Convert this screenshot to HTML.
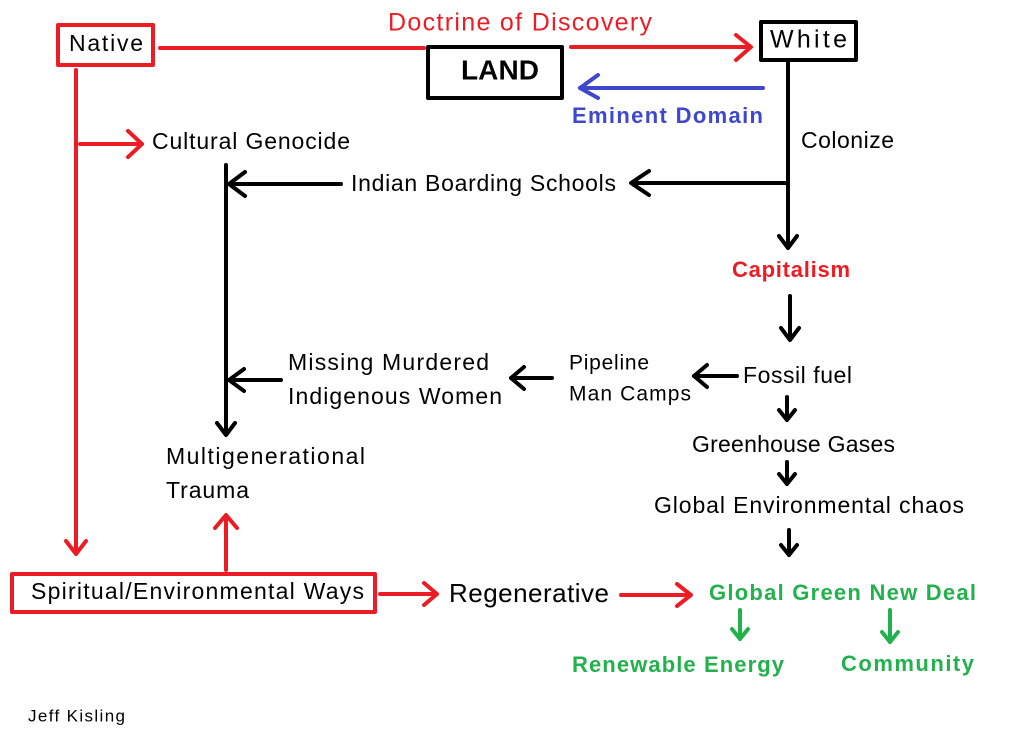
<!DOCTYPE html>
<html><head><meta charset="utf-8"><style>
html,body{margin:0;padding:0;background:#fff;}
svg{display:block;}
text{font-family:"Liberation Sans","DejaVu Sans",sans-serif;font-size:23px;fill:#000;dominant-baseline:middle;}
</style></head><body>
<svg width="1024" height="740" viewBox="0 0 1024 740" xmlns="http://www.w3.org/2000/svg">
<g fill="none" stroke-linecap="round" stroke-linejoin="round">
<rect x="58" y="25" width="95" height="40" stroke="#ed1c24" stroke-width="4"/>
<rect x="761" y="22" width="95" height="38" stroke="#000" stroke-width="4"/>
<rect x="428" y="47" width="134" height="51" stroke="#000" stroke-width="4"/>
<rect x="12" y="574" width="363" height="38" stroke="#ed1c24" stroke-width="4"/>
<g stroke="#ed1c24" stroke-width="4">
<line x1="160" y1="48" x2="424" y2="48"/>
<line x1="571" y1="47" x2="750" y2="47"/>
<polyline points="736,35 751,47 736,60"/>
<line x1="76" y1="70" x2="76" y2="553"/>
<polyline points="66,541 76,554 86,541"/>
<line x1="80" y1="144" x2="142" y2="144"/>
<polyline points="128,131 142,144 128,157"/>
<line x1="380" y1="594" x2="436" y2="594"/>
<polyline points="424,583 437,594 424,605"/>
<line x1="621" y1="595" x2="690" y2="595"/>
<polyline points="677,584 691,595 677,606"/>
<line x1="226" y1="570" x2="226" y2="516"/>
<polyline points="215,528 226,515 237,528"/>
</g>
<g stroke="#3f48cc" stroke-width="4">
<line x1="763" y1="88" x2="580" y2="88"/>
<polyline points="598,75 580,88 598,98"/>
</g>
<g stroke="#000" stroke-width="4">
<line x1="788" y1="60" x2="788" y2="247"/>
<polyline points="779,236 788,248 797,236"/>
<line x1="788" y1="183" x2="632" y2="183"/>
<polyline points="649,171 631,183 649,195"/>
<line x1="341" y1="184" x2="229" y2="184"/>
<polyline points="245,172 229,184 245,196"/>
<line x1="226" y1="165" x2="226" y2="434"/>
<polyline points="217,423 226,435 235,423"/>
<line x1="281" y1="380" x2="229" y2="380"/>
<polyline points="244,369 229,380 244,391"/>
<line x1="790" y1="296" x2="790" y2="339"/>
<polyline points="781,328 790,340 799,328"/>
<line x1="737" y1="376" x2="694" y2="376"/>
<polyline points="707,365 694,376 707,387"/>
<line x1="552" y1="378" x2="511" y2="378"/>
<polyline points="524,367 511,378 524,389"/>
<line x1="787" y1="397" x2="787" y2="420"/>
<polyline points="779,410 787,420 795,410"/>
<line x1="787" y1="462" x2="787" y2="484"/>
<polyline points="779,474 787,484 795,474"/>
<line x1="789" y1="530" x2="789" y2="555"/>
<polyline points="781,545 789,555 797,545"/>
</g>
<g stroke="#22b14c" stroke-width="4">
<line x1="740" y1="610" x2="740" y2="639"/>
<polyline points="732,629 740,639 748,629"/>
<line x1="890" y1="610" x2="890" y2="642"/>
<polyline points="882,632 890,642 898,632"/>
</g>
</g>
<text x="69" y="45" textLength="74">Native</text>
<text x="388" y="24" textLength="264" style="fill:#ed1c24;font-size:25px">Doctrine of Discovery</text>
<text x="770" y="41" textLength="77" style="font-size:25px">White</text>
<text x="461" y="72" textLength="78" style="font-weight:bold;font-size:28px">LAND</text>
<text x="572" y="117" textLength="191" style="fill:#3f48cc;font-weight:bold;font-size:22px">Eminent Domain</text>
<text x="801" y="142" textLength="93">Colonize</text>
<text x="152" y="143" textLength="198">Cultural Genocide</text>
<text x="351" y="185" textLength="265">Indian Boarding Schools</text>
<text x="732" y="271" textLength="118" style="fill:#ed1c24;font-weight:bold;font-size:22px">Capitalism</text>
<text x="743" y="377" textLength="109">Fossil fuel</text>
<text x="569" y="364" textLength="80" style="font-size:21px">Pipeline</text>
<text x="569" y="395" textLength="122" style="font-size:21px">Man Camps</text>
<text x="288" y="364" textLength="201">Missing Murdered</text>
<text x="288" y="398" textLength="214">Indigenous Women</text>
<text x="692" y="446" textLength="203">Greenhouse Gases</text>
<text x="166" y="458" textLength="199">Multigenerational</text>
<text x="166" y="492" textLength="83">Trauma</text>
<text x="654" y="507" textLength="310">Global Environmental chaos</text>
<text x="31" y="593" textLength="333">Spiritual/Environmental Ways</text>
<text x="449" y="595" textLength="160" style="font-size:26px">Regenerative</text>
<text x="709" y="594" textLength="267" style="fill:#22b14c;font-weight:bold;font-size:22px">Global Green New Deal</text>
<text x="572" y="666" textLength="212" style="fill:#22b14c;font-weight:bold;font-size:22px">Renewable Energy</text>
<text x="841" y="665" textLength="133" style="fill:#22b14c;font-weight:bold;font-size:22px">Community</text>
<text x="28" y="717" textLength="97" style="font-size:17px">Jeff Kisling</text>
</svg>
</body></html>
